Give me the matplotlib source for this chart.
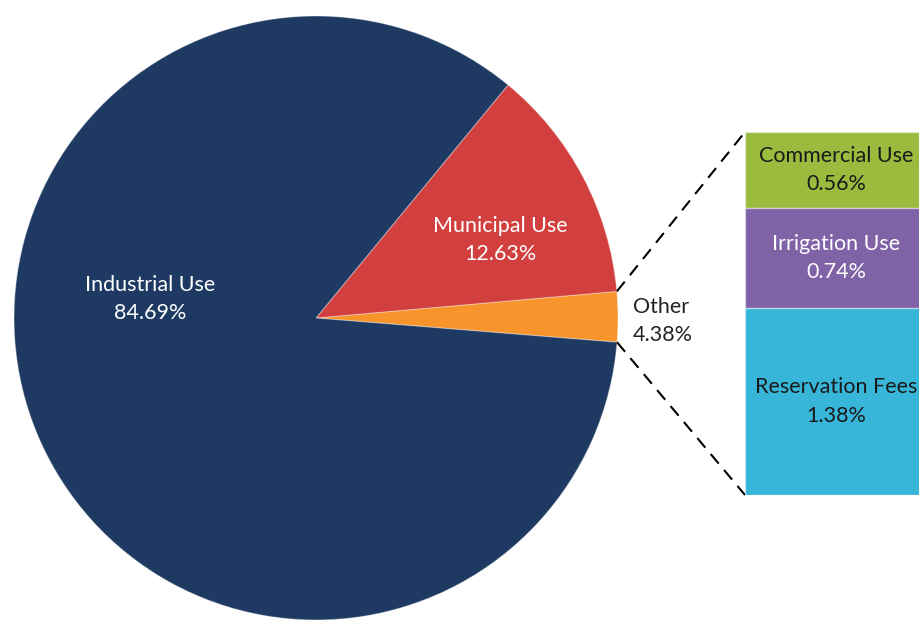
import matplotlib.pyplot as plt
import numpy as np

plt.rcParams['font.family'] = ['Lato', 'DejaVu Sans']

# main pie slices (Other drawn as sum of its breakdown)
pie_labels = ["Other", "Municipal Use", "Industrial Use"]
pie_pct_text = ["4.38%", "12.63%", "84.69%"]
main_values = [12.63, 84.69]

# breakdown of "Other", top to bottom
sub_labels = ["Commercial Use", "Irrigation Use", "Reservation Fees"]
sub_values = [0.56, 0.74, 1.38]

other_value = sum(sub_values)
pie_values = [other_value] + main_values
pie_colors = ["#f7952c", "#d13f3e", "#1e3a62"]
sub_colors = ["#9bbb3e", "#8062a7", "#38b6da"]
sub_text_colors = ["#1a1a1a", "white", "#1a1a1a"]

FS = 15.5
LS = 1.55

W, H = 919, 621
fig = plt.figure(figsize=(W / 100, H / 100), dpi=100)
ax = fig.add_axes([0, 0, 1, 1])
ax.set_xlim(0, W)
ax.set_ylim(0, H)
ax.set_aspect('equal')
ax.axis('off')

cx, cy, r = 316, 303, 302
start = -4.6
wedges, _ = ax.pie(pie_values, colors=pie_colors, startangle=start,
                   counterclock=True, center=(cx, cy), radius=r,
                   explode=[4 / r, 0, 0],
                   wedgeprops=dict(linewidth=0.8, edgecolor="#ffffff55"))
ax.set_xlim(0, W)
ax.set_ylim(0, H)

# slice labels
ax.text(150, H - 299, f"{pie_labels[2]}\n{pie_pct_text[2]}", color="white",
        ha="center", va="center", fontsize=FS, linespacing=LS)
ax.text(500, H - 240, f"{pie_labels[1]}\n{pie_pct_text[1]}", color="white",
        ha="center", va="center", fontsize=FS, linespacing=LS)
ax.text(633, H - 321, f"{pie_labels[0]}\n{pie_pct_text[0]}", color="#222222",
        ha="left", va="center", fontsize=FS, linespacing=LS)

# stacked bar for the breakdown of Other
bar_left, bar_top, bar_bottom, bar_w = 745, 132, 495, 182
bax = fig.add_axes([bar_left / W, (H - bar_bottom) / H, bar_w / W,
                    (bar_bottom - bar_top) / H])
bax.set_xlim(0, 1)
bax.set_ylim(0, other_value)
bax.axis('off')
bottom = other_value
for lab, v, c, tc in zip(sub_labels, sub_values, sub_colors, sub_text_colors):
    bottom -= v
    bax.bar(0.5, v, width=1.0, bottom=bottom, color=c,
            edgecolor="#ffffff66", linewidth=1)
    bax.text(0.5, bottom + v / 2, f"{lab}\n{v:.2f}%", color=tc,
             ha="center", va="center", fontsize=FS, linespacing=LS)

# dashed connector lines from the Other slice to the bar
w = wedges[0]
t1, t2 = np.deg2rad(w.theta1), np.deg2rad(w.theta2)
ox, oy = w.center
ax.plot([ox + w.r * np.cos(t2), bar_left], [oy + w.r * np.sin(t2), H - bar_top],
        color="black", lw=1.5, ls=(0, (6, 4)))
ax.plot([ox + w.r * np.cos(t1), bar_left], [oy + w.r * np.sin(t1), H - bar_bottom],
        color="black", lw=1.5, ls=(0, (6, 4)))

fig.savefig("out.png", dpi=100)
